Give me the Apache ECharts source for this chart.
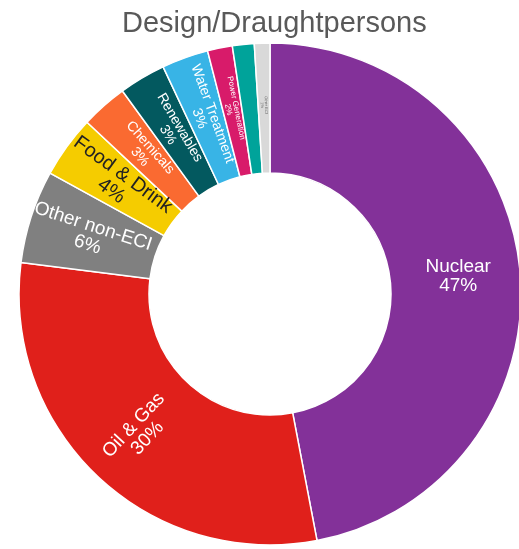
<!DOCTYPE html>
<html>
<head>
<meta charset="utf-8">
<script src="https://cdn.jsdelivr.net/npm/echarts@6/dist/echarts.min.js"></script>
<style>
  html, body { margin: 0; padding: 0; background: #fff; }
  #main { width: 519px; height: 549px; }
</style>
</head>
<body>
<div id="main"></div>
<script>
// 数据
var sectors = ["Nuclear", "Oil & Gas", "Other non-ECI", "Food & Drink", "Chemicals",
  "Renewables", "Water Treatment", "Power Generation", "Pharmaceuticals", "Other ECI"];
var shares = [47, 30, 6, 4, 3, 3, 3, 1.6, 1.4, 1.0];
var colors = ["#833199", "#E0201B", "#808080", "#F5CC00", "#FA6A31",
  "#03595F", "#38B4E6", "#D81B6A", "#00A39A", "#D9D9D9"];
var labelSizes = [19, 19, 19, 20, 14, 14, 14, 8, 8, 4];
var labelColors = ["#fff", "#fff", "#fff", "#222", "#fff", "#fff", "#fff", "#fff", "#fff", "#666"];

var chart = echarts.init(document.getElementById("main"));

var seriesData = sectors.map(function (name, i) {
  var item = {
    name: name,
    value: shares[i],
    itemStyle: { color: colors[i] },
    label: { fontSize: labelSizes[i], color: labelColors[i] }
  };
  if (i === 0) item.label.rotate = 0; // Nuclear 水平
  return item;
});

var option = {
  animation: false,
  title: {
    text: "Design/Draughtpersons",
    left: 117,
    top: 4,
    textStyle: {
      fontFamily: "Liberation Sans",
      fontSize: 29,
      fontWeight: "normal",
      color: "#595959"
    }
  },
  series: [
    {
      type: "pie",
      center: [270, 294],
      radius: [121, 251],
      startAngle: 90,
      clockwise: true,
      avoidLabelOverlap: false,
      itemStyle: {
        borderColor: "#fff",
        borderWidth: 1.5
      },
      label: {
        show: true,
        position: "inside",
        rotate: "radial",
        fontFamily: "Liberation Sans",
        formatter: function (p) {
          return p.name + "\n" + Math.round(p.percent) + "%";
        }
      },
      labelLine: { show: false },
      emphasis: { disabled: true },
      data: seriesData
    }
  ]
};
chart.setOption(option);
</script>
</body>
</html>
